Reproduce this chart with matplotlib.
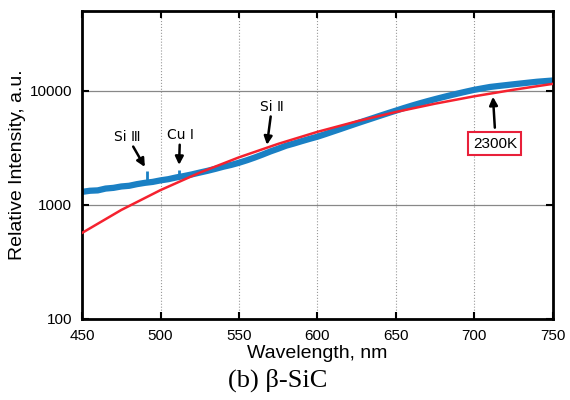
import numpy as np
import matplotlib.pyplot as plt

plt.rcParams['font.family'] = ['Liberation Sans', 'DejaVu Sans']

wl_meas = [450, 455, 460, 465, 470, 475, 480, 485, 490, 495, 500,
           505, 510, 515, 520, 525, 530, 535, 540, 545, 550,
           555, 560, 565, 570, 575, 580, 585, 590, 595, 600, 605, 610, 615, 620,
           625, 630, 635, 640, 645, 650, 655, 660, 665, 670, 675, 680, 685, 690,
           695, 700, 705, 710, 715, 720, 725, 730, 735, 740, 745, 750]
I_meas = [1300, 1330, 1340, 1390, 1410, 1450, 1470, 1520, 1560, 1590, 1640,
          1680, 1740, 1790, 1850, 1920, 1990, 2070, 2160, 2240, 2340,
          2460, 2600, 2760, 2940, 3110, 3300, 3450, 3620, 3790, 3960, 4170, 4400, 4640, 4900,
          5170, 5450, 5740, 6050, 6370, 6700, 7050, 7400, 7750, 8100, 8450, 8800, 9150, 9500,
          9850, 10200, 10500, 10800, 11000, 11200, 11400, 11600, 11800, 12000, 12150, 12300]

# emission lines sticking out of the continuum
wl_peak = [491.2, 511.6]
I_peak_base = [1560, 1750]
I_peak_top = [2000, 2010]

# 2300 K fit curve
wl_fit = [450, 475, 500, 525, 550, 575, 600, 625, 650, 675, 700, 725, 750]
I_fit = [568, 903, 1348, 1917, 2611, 3428, 4367, 5396, 6521, 7710, 8950, 10210, 11500]

fig = plt.figure(figsize=(5.7, 4.0), dpi=100)
ax = fig.add_axes([0.144, 0.2025, 0.826, 0.77])

blue = '#1a80c4'
ax.plot(wl_meas, I_meas, color=blue, lw=4.5, solid_capstyle='butt', zorder=2)
ax.vlines(wl_peak, I_peak_base, I_peak_top, color=blue, lw=2, zorder=2)
ax.plot(wl_fit, I_fit, color='#f5222f', lw=1.8, zorder=3)

ax.set_yscale('log')
ax.set_xlim(450, 750)
ax.set_ylim(100, 50000)
ax.set_xticks([450, 500, 550, 600, 650, 700, 750])
ax.set_yticks([100, 1000, 10000])
ax.set_yticklabels(['100', '1000', '10000'])
ax.yaxis.set_minor_locator(plt.NullLocator())

ax.grid(axis='x', color='#999999', lw=0.8, ls=':')
ax.grid(axis='y', color='#888888', lw=0.9, ls='-')
ax.set_axisbelow(True)

for s in ax.spines.values():
    s.set_linewidth(2)
ax.tick_params(direction='in', length=5, width=1.5, top=True, right=True,
               labelsize=11, pad=7)

ax.set_xlabel('Wavelength, nm', fontsize=14, labelpad=2)
ax.set_ylabel('Relative Intensity, a.u.', fontsize=14, labelpad=3)

arrow = dict(arrowstyle='-|>', color='black', lw=1.8, mutation_scale=12,
             shrinkA=0, shrinkB=0)
lab = dict(ha='center', va='center', fontsize=10, family=['DejaVu Sans'])
ax.annotate('Si Ⅲ', xy=(490, 2150), xytext=(479, 3950), arrowprops=arrow, **lab)
ax.annotate('Cu Ⅰ', xy=(511.8, 2240), xytext=(512.4, 4100), arrowprops=arrow, **lab)
ax.annotate('Si Ⅱ', xy=(567.8, 3360), xytext=(571, 7250), arrowprops=arrow, **lab)
ax.annotate('', xy=(711.8, 8860), xytext=(713, 4750), arrowprops=arrow)
ax.text(713, 3430, '2300K', ha='center', va='center', fontsize=11,
        bbox=dict(boxstyle='square,pad=0.3', fc='white', ec='#e8203a', lw=1.5))

fig.text(0.487, 0.05, '(b) β-SiC', ha='center', va='center', fontsize=19,
         family='Liberation Serif')

fig.savefig('out.png', dpi=100)
